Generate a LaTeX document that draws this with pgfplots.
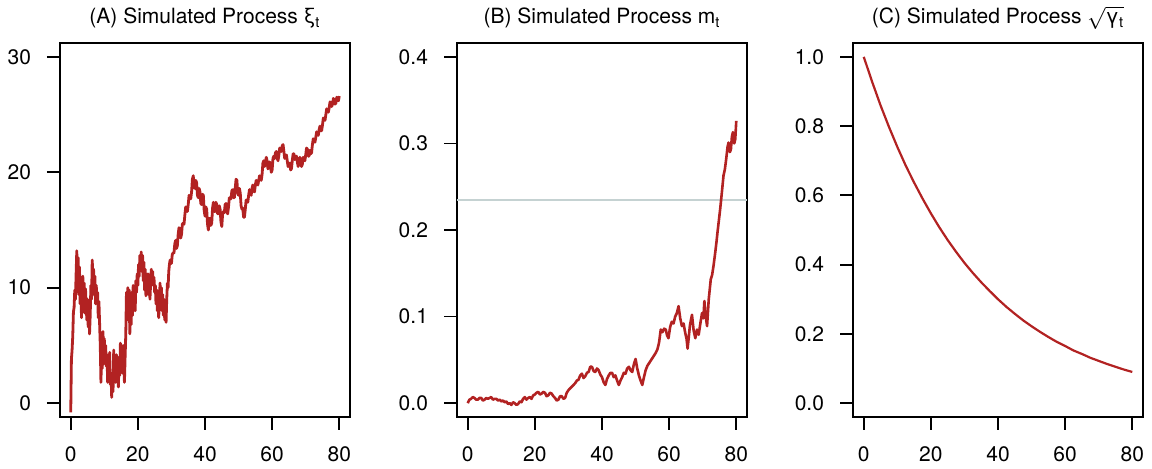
\documentclass[border=0pt]{standalone}
\usepackage{fontspec}
\setmainfont{TeX Gyre Heros}
\usepackage{pgfplots}
\pgfplotsset{compat=1.18}

\definecolor{simred}{HTML}{B22222}
\definecolor{refline}{HTML}{C5D2D2}

\newcommand{\panelfont}{\fontsize{10.5}{12.5}\selectfont}

\pgfplotsset{
  rpanel/.style={
    scale only axis, width=145pt, height=187pt,
    xmin=-3.2, xmax=83.2,
    xtick={0,20,40,60,80},
    tick align=outside, tick pos=left, major tick length=6.5pt,
    axis line style={line width=0.9pt},
    every tick/.style={line width=0.9pt, black},
    tick label style={font=\panelfont},
    xticklabel style={yshift=-5pt},
    yticklabel style={xshift=-4.5pt},
    /pgf/number format/assume math mode=true,
    every axis title/.style={font=\panelfont, anchor=base, at={(0.5,1)}, yshift=9.5pt, inner ysep=1pt},
  },
  path/.style={simred, line width=1.4pt, line join=round, no marks},
}

\begin{document}
\begin{tikzpicture}
\path[use as bounding box] (0,0) rectangle (576pt,234.5pt);

% Panel A: simulated path xi_t
\begin{axis}[rpanel, at={(30pt,26pt)}, anchor=south west,
  ymin=-1.2, ymax=31.2, ytick={0,10,20,30},
  title={(A) Simulated Process ξ\textsubscript{t}}]
\addplot[path] coordinates {
(0.0,-0.8) (0.2,3.8) (0.4,4.6) (0.6,5.8) (0.8,7.9) (1.0,8.3) (1.2,9.8) (1.4,9.0)
(1.6,11.2) (1.8,13.2) (2.0,10.5) (2.2,12.6) (2.4,9.4) (2.6,11.8) (2.8,8.6) (3.0,10.9)
(3.2,7.4) (3.4,9.6) (3.6,11.0) (3.8,8.2) (4.0,10.4) (4.2,7.8) (4.4,9.9) (4.6,8.5)
(4.8,7.2) (5.0,9.0) (5.2,6.6) (5.4,8.3) (5.6,6.0) (5.8,7.6) (6.0,10.2) (6.2,9.0)
(6.4,12.4) (6.6,10.8) (6.8,11.6) (7.0,9.4) (7.2,11.0) (7.4,8.6) (7.6,10.2) (7.8,9.0)
(8.0,9.6) (8.2,7.4) (8.4,8.8) (8.6,6.9) (8.8,5.0) (9.0,1.8) (9.2,4.6) (9.4,3.0)
(9.6,6.2) (9.8,4.2) (10.0,5.6) (10.2,3.4) (10.4,5.0) (10.6,3.2) (10.8,4.2) (11.0,1.8)
(11.2,3.6) (11.4,2.4) (11.6,4.4) (11.8,1.6) (12.0,2.6) (12.2,0.5) (12.4,2.2) (12.6,1.0)
(12.8,4.6) (13.0,2.2) (13.2,3.8) (13.4,1.8) (13.6,4.2) (13.8,2.0) (14.0,3.0) (14.2,1.4)
(14.4,4.0) (14.6,2.4) (14.8,5.2) (15.0,3.0) (15.2,4.6) (15.4,2.6) (15.6,5.0) (15.8,3.4)
(16.0,1.8) (16.2,4.0) (16.4,6.0) (16.6,9.6) (16.8,7.2) (17.0,10.0) (17.2,8.0) (17.4,9.8)
(17.6,6.0) (17.8,8.4) (18.0,6.8) (18.2,9.6) (18.4,7.6) (18.6,10.2) (18.8,8.4) (19.0,9.6)
(19.2,8.0) (19.4,10.6) (19.6,9.6) (19.8,11.2) (20.0,10.2) (20.2,12.0) (20.4,11.0) (20.6,12.8)
(20.8,11.6) (21.0,13.1) (21.2,11.4) (21.4,12.8) (21.6,10.6) (21.8,12.2) (22.0,9.8) (22.2,11.6)
(22.4,9.3) (22.6,10.8) (22.8,9.6) (23.0,11.2) (23.2,9.4) (23.4,10.6) (23.6,9.0) (23.8,10.4)
(24.0,11.6) (24.2,10.6) (24.4,11.4) (24.6,10.2) (24.8,10.9) (25.0,9.6) (25.2,10.2) (25.4,8.6)
(25.6,9.8) (25.8,8.0) (26.0,9.0) (26.2,7.4) (26.4,8.6) (26.6,10.4) (26.8,8.8) (27.0,10.0)
(27.2,8.0) (27.4,9.4) (27.6,7.6) (27.8,9.0) (28.0,7.2) (28.2,8.4) (28.4,7.0) (28.6,9.0)
(28.8,10.4) (29.0,10.0) (29.2,11.4) (29.4,12.0) (29.6,12.4) (30.0,12.1)
(30.25,12.9) (30.5,13.0) (30.75,13.0) (31.0,13.8) (31.25,14.1) (31.5,13.4) (31.75,13.6) (32.0,14.6)
(32.25,15.2) (32.5,15.0) (32.75,14.3) (33.0,14.6) (33.25,15.5) (33.5,15.6) (33.75,15.5) (34.0,16.3)
(34.25,17.0) (34.5,16.8) (34.75,16.6) (35.0,17.2) (35.25,18.0) (35.5,17.9) (35.75,17.7) (36.0,18.3)
(36.25,19.4) (36.5,19.7) (36.75,18.7) (37.0,18.6) (37.25,19.3) (37.5,19.1) (37.75,18.0) (38.0,17.8)
(38.25,18.6) (38.5,18.3) (38.75,17.3) (39.0,17.2) (39.25,18.1) (39.5,18.0) (39.75,16.7) (40.0,16.2)
(40.25,17.0) (40.5,16.8) (40.75,15.5) (41.0,15.0) (41.25,16.0) (41.5,16.0) (41.75,15.4) (42.0,15.6)
(42.25,16.9) (42.5,17.4) (42.75,16.6) (43.0,16.6) (43.25,17.4) (43.5,17.2) (43.75,16.4) (44.0,16.4)
(44.25,17.1) (44.5,16.8) (44.75,15.7) (45.0,15.3) (45.25,16.4) (45.5,16.6) (45.75,16.5) (46.0,17.2)
(46.25,17.3) (46.5,16.6) (46.75,16.4) (47.0,17.0) (47.25,17.8) (47.5,17.8) (47.75,17.7) (48.0,18.4)
(48.25,18.5) (48.5,17.8) (48.75,17.8) (49.0,18.6) (49.25,19.4) (49.5,19.3) (49.75,18.2) (50.0,18.0)
(50.25,18.6) (50.5,18.2) (50.75,17.1) (51.0,16.8) (51.25,16.9) (51.5,16.1) (51.75,16.1) (52.0,16.8)
(52.25,17.6) (52.5,17.6) (52.75,17.4) (53.0,18.0) (53.25,18.5) (53.5,18.2) (53.75,18.0) (54.0,18.6)
(54.25,18.9) (54.5,18.4) (54.75,18.3) (55.0,18.9) (55.25,19.3) (55.5,19.0) (55.75,18.9) (56.0,19.3)
(56.25,19.7) (56.5,19.4) (56.75,19.3) (57.0,19.8) (57.25,20.8) (57.5,21.0) (57.75,20.5) (58.0,20.8)
(58.25,21.3) (58.5,21.0) (58.75,20.3) (59.0,20.4) (59.25,20.9) (59.5,20.6) (59.75,20.0) (60.0,20.2)
(60.25,21.2) (60.5,21.4) (60.75,21.2) (61.0,21.7) (61.25,21.8) (61.5,21.2) (61.75,21.0) (62.0,21.5)
(62.25,22.1) (62.5,22.0) (62.75,21.8) (63.0,22.3) (63.25,22.4) (63.5,21.8) (63.75,21.2) (64.0,21.3)
(64.25,21.5) (64.5,21.0) (64.75,20.5) (65.0,20.6) (65.25,20.8) (65.5,20.2) (65.75,20.3) (66.0,21.0)
(66.25,21.6) (66.5,21.6) (66.75,21.1) (67.0,21.3) (67.25,21.4) (67.5,20.9) (67.75,20.5) (68.0,20.8)
(68.25,21.3) (68.5,21.0) (68.75,20.5) (69.0,20.7) (69.25,21.3) (69.5,21.1) (69.75,21.0) (70.0,21.5)
(70.25,22.1) (70.5,22.0) (70.75,21.4) (71.0,21.4) (71.25,21.9) (71.5,21.6) (71.75,21.7) (72.0,22.4)
(72.25,22.9) (72.5,22.8) (72.75,22.6) (73.0,23.0) (73.25,23.5) (73.5,23.3) (73.75,23.2) (74.0,23.7)
(74.25,24.0) (74.5,23.6) (74.75,23.6) (75.0,24.1) (75.25,24.7) (75.5,24.6) (75.75,24.5) (76.0,25.0)
(76.25,25.5) (76.5,25.4) (76.75,25.2) (77.0,25.6) (77.25,26.1) (77.5,26.0) (77.75,25.7) (78.0,25.9)
(78.25,26.4) (78.5,26.2) (78.75,25.9) (79.0,26.0) (79.25,26.5) (79.5,26.3) (79.75,26.2) (80.0,26.6)
};
\end{axis}

% Panel B: simulated path m_t with reference level
\begin{axis}[rpanel, at={(228.5pt,26pt)}, anchor=south west,
  ymin=-0.016, ymax=0.416, ytick={0,0.1,0.2,0.3,0.4},
  yticklabel style={/pgf/number format/.cd, fixed, fixed zerofill, precision=1},
  title={(B) Simulated Process m\textsubscript{t}}]
\addplot[refline, line width=1pt, no marks] coordinates {(-3.2,0.235) (83.2,0.235)};
\addplot[path, line width=1.3pt] coordinates {
(0,0.000) (0.5,0.004) (1,0.005) (1.5,0.007) (2,0.006) (2.5,0.004) (3,0.004) (3.5,0.006)
(4,0.006) (4.5,0.003) (5,0.004) (5.5,0.006) (6,0.005) (6.5,0.006) (7,0.007) (7.5,0.004)
(8,0.005) (8.5,0.005) (9,0.003) (9.5,0.004) (10,0.002) (10.5,0.003) (11,0.001) (11.5,0.002)
(12,-0.001) (12.5,0.000) (13,-0.002) (13.5,0.001) (14,0.000) (14.5,-0.002) (15,-0.001) (15.5,0.002)
(16,0.001) (16.5,0.005) (17,0.007) (17.5,0.004) (18,0.006) (18.5,0.007) (19,0.005) (19.5,0.009)
(20,0.010) (20.5,0.012) (21,0.013) (21.5,0.010) (22,0.011) (22.5,0.013) (23,0.012) (23.5,0.008)
(24,0.009) (24.5,0.012) (25,0.011) (25.5,0.008) (26,0.006) (26.5,0.003) (27,0.004) (27.5,0.008)
(28,0.008) (28.5,0.005) (29,0.006) (29.5,0.012) (30,0.015) (30.5,0.017) (31,0.019) (31.5,0.021)
(32,0.023) (32.5,0.026) (33,0.027) (33.5,0.032) (34,0.034) (34.5,0.029) (35,0.031) (35.5,0.035)
(36,0.036) (36.5,0.042) (37,0.042) (37.5,0.037) (38,0.036) (38.5,0.040) (39,0.038) (39.5,0.033)
(40,0.030) (40.5,0.024) (41,0.021) (41.5,0.028) (42,0.032) (42.5,0.035) (43,0.035) (43.5,0.030)
(44,0.032) (44.5,0.026) (45,0.021) (45.5,0.026) (46,0.030) (46.5,0.035) (47,0.034) (47.5,0.040)
(48,0.042) (48.5,0.038) (49,0.036) (49.5,0.045) (50,0.051) (50.5,0.040) (51,0.032) (51.5,0.026)
(52,0.021) (52.5,0.030) (53,0.038) (53.5,0.043) (54,0.046) (54.5,0.049) (55,0.052) (55.5,0.055)
(56,0.058) (56.5,0.062) (57,0.070) (57.5,0.085) (58,0.082) (58.5,0.086) (59,0.085) (59.4,0.078)
(59.8,0.075) (60.3,0.088) (60.8,0.094) (61.3,0.092) (61.8,0.100) (62.3,0.104) (62.8,0.112) (63.3,0.098)
(63.8,0.089) (64.3,0.092) (64.8,0.081) (65.2,0.074) (65.5,0.063) (66.2,0.090) (66.8,0.102) (67.3,0.084)
(67.8,0.075) (68.3,0.085) (68.8,0.079) (69.3,0.092) (69.8,0.104) (70.2,0.098) (70.5,0.118) (70.9,0.100)
(71.3,0.089) (71.8,0.120) (72.4,0.143) (72.8,0.148) (73.2,0.158) (73.7,0.173) (74.1,0.186) (74.4,0.197)
(75.2,0.224) (75.7,0.243) (76.2,0.263) (76.6,0.270) (77.0,0.282) (77.4,0.296) (77.7,0.301) (78.1,0.290)
(78.4,0.293) (78.7,0.308) (79.0,0.313) (79.4,0.300) (79.7,0.305) (80.0,0.326)
};
\end{axis}

% Panel C: deterministic path sqrt(gamma_t)
\begin{axis}[rpanel, at={(426.5pt,26pt)}, anchor=south west,
  ymin=-0.04, ymax=1.04, ytick={0,0.2,0.4,0.6,0.8,1.0},
  yticklabel style={/pgf/number format/.cd, fixed, fixed zerofill, precision=1},
  title={(C) Simulated Process \smash{$\sqrt{\smash{\mbox{γ\textsubscript{t}}}\vphantom{x}}$}}]
\addplot[path, line width=1.1pt] coordinates {
(0,1.000) (2.5,0.928) (5,0.860) (7.5,0.798) (10,0.740) (12.5,0.686) (15,0.637) (17.5,0.591)
(20,0.548) (22.5,0.508) (25,0.471) (27.5,0.437) (30,0.405) (32.5,0.376) (35,0.349) (37.5,0.324)
(40,0.300) (42.5,0.278) (45,0.258) (47.5,0.239) (50,0.222) (52.5,0.206) (55,0.191) (57.5,0.177)
(60,0.165) (62.5,0.152) (65,0.142) (67.5,0.131) (70,0.122) (72.5,0.113) (75,0.105) (77.5,0.097)
(80,0.090)
};
\end{axis}
\end{tikzpicture}
\end{document}
